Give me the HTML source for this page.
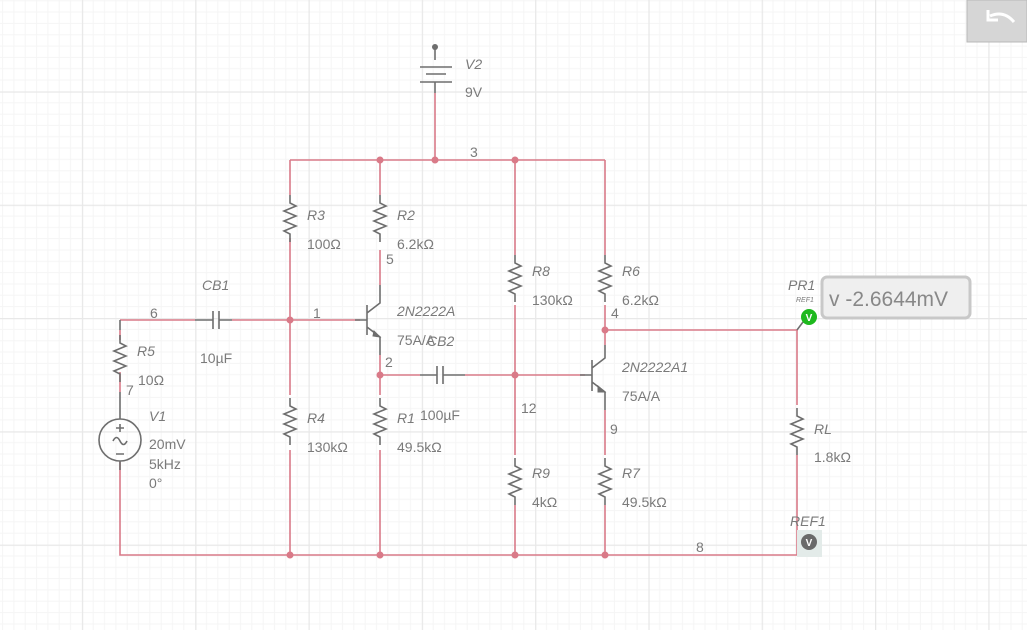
<!DOCTYPE html>
<html><head><meta charset="utf-8"><style>
html,body{margin:0;padding:0;background:#fff;}
svg{display:block;font-family:"Liberation Sans",sans-serif;}
.t{fill:#7a7a7a;font-size:14px;}
.i{font-style:italic;}
</style></head><body>
<svg width="1027" height="630" viewBox="0 0 1027 630" xmlns="http://www.w3.org/2000/svg">
<defs>
<pattern id="g" x="81.9" y="91.4" width="113.3" height="113.3" patternUnits="userSpaceOnUse">
<path d="M11.33 0V113.3M22.66 0V113.3M34 0V113.3M45.3 0V113.3M56.65 0V113.3M68 0V113.3M79.3 0V113.3M90.6 0V113.3M102 0V113.3M0 11.33H113.3M0 22.66H113.3M0 34H113.3M0 45.3H113.3M0 56.65H113.3M0 68H113.3M0 79.3H113.3M0 90.6H113.3M0 102H113.3" stroke="#f5f5f5" stroke-width="1" fill="none"/>
<path d="M0.5 0V113.3M0 0.5H113.3" stroke="#e8e8e8" stroke-width="1.5" fill="none"/>
</pattern>
<path id="r" d="M0 0V8L6 11L-6 16L6 21L-6 26L6 31L-6 36L0 39V47" stroke="#6e6e6e" stroke-width="1.6" fill="none"/>
</defs>
<rect width="1027" height="630" fill="url(#g)"/>
<rect x="967" y="0" width="60" height="42" fill="#d6d6d6" stroke="#b8b8b8"/>
<path d="M990 16 q14 -6 24 6" stroke="#fff" stroke-width="3" fill="none"/><path d="M988 10 v10 h10" stroke="#fff" stroke-width="3" fill="none"/>

<g stroke="#d97a88" stroke-width="1.6" fill="none">
<path d="M290 160H605"/>
<path d="M435 93V160"/>
<path d="M120 330V340M120 372V392M120 462V555H797V455"/>
<path d="M120 320H195M232 320H360"/>
<path d="M290 160V195M290 238V395M290 450V555"/>
<path d="M380 160V195M380 250V285M380 355V395M380 450V555"/>
<path d="M380 375H420M465 375H585"/>
<path d="M515 160V255M515 305V455M515 505V555"/>
<path d="M605 160V255M605 305V345M605 410V455M605 505V555"/>
<path d="M605 330H797V405"/>
</g>
<g stroke="#6e6e6e" stroke-width="1.6" fill="none">
<path d="M435 47V60M420 67H452M426 74H446M420 82H452M435 82V93"/>
<path d="M120 320V330"/>
<path d="M195 320H213M213 311V329M219 311V329M219 320H232"/>
<path d="M420 375H437M437 366V384M443 366V384M443 375H465"/>
<path d="M355 320H367M367 305V335M367 313L380 303V285M367 327L380 337V355"/>
<path d="M580 375H592M592 360V391M592 368L605 358V345M592 382L605 392V410"/>
<circle cx="120" cy="440" r="21"/>
<path d="M120 392V419M120 461V470"/>
<path d="M113 441q3.5 -7 7 0t7 0"/>
<path d="M116 428h8M120 424v8M116 454h8"/>
<path d="M803 322L797 330"/>
</g>
<use href="#r" x="290" y="195"/>
<use href="#r" x="380" y="195"/>
<use href="#r" x="120" y="335"/>
<use href="#r" x="290" y="398"/>
<use href="#r" x="380" y="398"/>
<use href="#r" x="515" y="255"/>
<use href="#r" x="605" y="255"/>
<use href="#r" x="515" y="458"/>
<use href="#r" x="605" y="458"/>
<use href="#r" x="797" y="408"/>
<circle cx="435" cy="47" r="3" fill="#6e6e6e"/>
<path d="M374 331L380 337L373 336Z M598 386L605 392L598 392Z" fill="#6e6e6e" stroke="#6e6e6e"/>
<g fill="#d97a88">
<circle cx="380" cy="160" r="3.5"/><circle cx="435" cy="160" r="3.5"/><circle cx="515" cy="160" r="3.5"/>
<circle cx="290" cy="320" r="3.5"/><circle cx="380" cy="375" r="3.5"/><circle cx="515" cy="375" r="3.5"/>
<circle cx="605" cy="330" r="3.5"/><circle cx="290" cy="555" r="3.5"/><circle cx="380" cy="555" r="3.5"/>
<circle cx="515" cy="555" r="3.5"/><circle cx="605" cy="555" r="3.5"/>
</g>
<rect x="822" y="277" width="148" height="41" rx="5" fill="#efefef" stroke="#c8c8c8" stroke-width="3"/>
<text x="829" y="306" style="fill:#888;font-size:21px">v -2.6644mV</text>
<circle cx="809" cy="317" r="8" fill="#1db81d"/>
<text x="809" y="321" text-anchor="middle" style="fill:#fff;font-size:10px;font-weight:bold">V</text>
<text class="t i" x="788" y="290">PR1</text>
<text class="t i" x="796" y="302" style="font-size:7px">REF1</text>
<rect x="797" y="530" width="25" height="27" fill="#e3ebe9"/>
<circle cx="809" cy="542" r="8" fill="#6a6a6a"/>
<text x="809" y="546" text-anchor="middle" style="fill:#fff;font-size:10px;font-weight:bold">V</text>
<text class="t i" x="790" y="526">REF1</text>

<g class="t">
<text class="i" x="465" y="69">V2</text><text x="465" y="97">9V</text>
<text x="470" y="157">3</text>
<text class="i" x="307" y="220">R3</text><text x="307" y="249">100Ω</text>
<text class="i" x="397" y="220">R2</text><text x="397" y="249">6.2kΩ</text><text x="386" y="264">5</text>
<text class="i" x="532" y="276">R8</text><text x="532" y="305">130kΩ</text>
<text class="i" x="622" y="276">R6</text><text x="622" y="305">6.2kΩ</text><text x="611" y="318">4</text>
<text class="i" x="202" y="290">CB1</text><text x="200" y="363">10µF</text>
<text x="150" y="318">6</text><text x="313" y="318">1</text>
<text class="i" x="397" y="316">2N2222A</text><text x="397" y="345">75A/A</text><text class="i" x="427" y="346">CB2</text>
<text x="385" y="367">2</text>
<text class="i" x="137" y="356">R5</text><text x="138" y="385">10Ω</text><text x="126" y="395">7</text>
<text class="i" x="149" y="421">V1</text><text x="149" y="449">20mV</text><text x="149" y="469">5kHz</text><text x="149" y="488">0°</text>
<text class="i" x="307" y="423">R4</text><text x="307" y="452">130kΩ</text>
<text class="i" x="397" y="423">R1</text><text x="420" y="420">100µF</text><text x="397" y="452">49.5kΩ</text>
<text class="i" x="622" y="372">2N2222A1</text><text x="622" y="401">75A/A</text>
<text x="521" y="413">12</text><text x="610" y="434">9</text>
<text class="i" x="532" y="478">R9</text><text x="532" y="507">4kΩ</text>
<text class="i" x="622" y="478">R7</text><text x="622" y="507">49.5kΩ</text>
<text class="i" x="814" y="434">RL</text><text x="814" y="462">1.8kΩ</text>
<text x="696" y="552">8</text>
</g>
</svg>
</body></html>
